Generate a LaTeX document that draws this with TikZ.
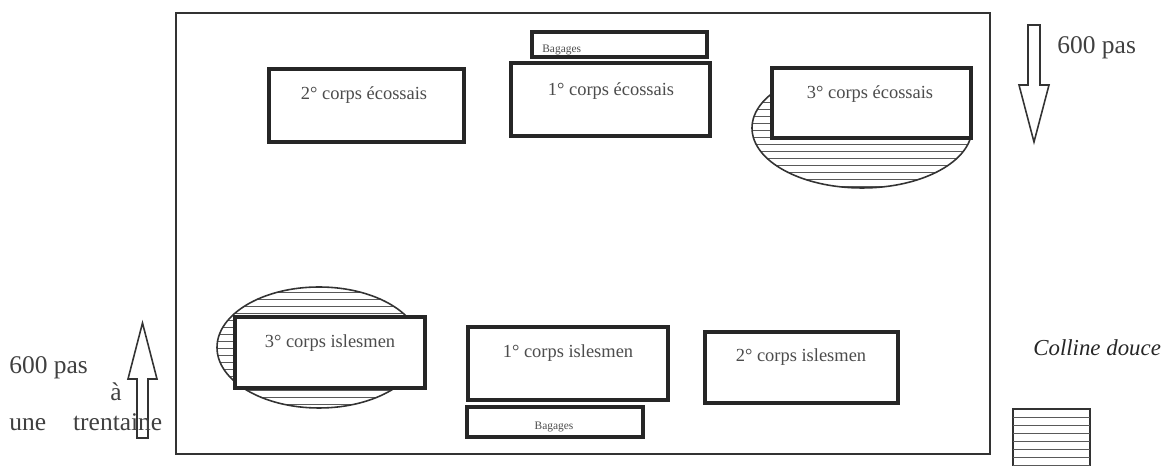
\documentclass[tikz,border=0pt]{standalone}
\usepackage{fontspec}
\setmainfont{Liberation Serif}
\begin{document}
\begin{tikzpicture}[x=0.2mm, y=-0.2mm]
    \tikzstyle{corps}=[draw=black!85, line width=2pt, fill=white, inner sep=0pt]
    \tikzstyle{bagage}=[draw=black!85, line width=1.8pt, fill=white, inner sep=0pt]
    \tikzstyle{lbl}=[black!70, inner sep=0pt, font=\fontsize{10.5}{12}\selectfont]
    \tikzstyle{note}=[black!75, inner sep=0pt, font=\fontsize{14.5}{16}\selectfont]
    \tikzstyle{bagtxt}=[black!70, inner sep=0pt, font=\fontsize{6.5}{7}\selectfont]
    \tikzstyle{hatch}=[black!65, line width=0.5pt]
    \tikzstyle{fleche}=[draw=black!80, line width=0.9pt, fill=white]
    \useasboundingbox (0, 0) rectangle (1170, 466);
    \draw [black!80, line width=0.8pt] (176, 13) rectangle (990, 454);
    % zones hachurees
    \begin{scope}
        \clip (862, 128) ellipse [x radius=110, y radius=60];
        \foreach \y in {74, 81, ..., 190} \draw [hatch] (740, \y) -- (985, \y);
    \end{scope}
    \draw [black!80, line width=0.9pt] (862, 128) ellipse [x radius=110, y radius=60];
    \begin{scope}
        \clip (319, 347.5) ellipse [x radius=102, y radius=60.5];
        \foreach \y in {292, 299, ..., 410} \draw [hatch] (210, \y) -- (430, \y);
    \end{scope}
    \draw [black!80, line width=0.9pt] (319, 347.5) ellipse [x radius=102, y radius=60.5];
    \draw [black!80, line width=0.9pt] (1013, 466) -- (1013, 409) -- (1090, 409) -- (1090, 466);
    \foreach \y in {417, 425, ..., 466} \draw [hatch] (1013, \y) -- (1090, \y);
    % corps ecossais
    \node [bagage, minimum width=35mm, minimum height=5mm] (bagE) at (619.5, 44.5) {};
    \node [bagtxt, anchor=west] (bagEtxt) at (542, 50) {Bagages};
    \node [corps, minimum width=39.8mm, minimum height=14.6mm] (c1E) at (610.5, 99.5) {};
    \node [lbl] (c1Etxt) at (611, 91) {1° corps écossais};
    \node [corps, minimum width=39mm, minimum height=14.6mm] (c2E) at (366.5, 105.5) {};
    \node [lbl] (c2Etxt) at (364, 95) {2° corps écossais};
    \node [corps, minimum width=39.8mm, minimum height=14mm] (c3E) at (871.5, 103) {};
    \node [lbl] (c3Etxt) at (870, 94) {3° corps écossais};
    % corps islesmen
    \node [corps, minimum width=38mm, minimum height=14.2mm] (c3I) at (330, 352.5) {};
    \node [lbl] (c3Itxt) at (330, 343) {3° corps islesmen};
    \node [corps, minimum width=40mm, minimum height=14.6mm] (c1I) at (568, 363.5) {};
    \node [lbl] (c1Itxt) at (568, 353) {1° corps islesmen};
    \node [bagage, minimum width=35.2mm, minimum height=6mm] (bagI) at (555, 422) {};
    \node [bagtxt] (bagItxt) at (554, 427) {Bagages};
    \node [corps, minimum width=38.6mm, minimum height=14.2mm] (c2I) at (801.5, 367.5) {};
    \node [lbl] (c2Itxt) at (801, 357) {2° corps islesmen};
    % fleches
    \draw [fleche] (1028, 25) -- (1040, 25) -- (1040, 85) -- (1049, 85) -- (1034, 142)
        -- (1019, 85) -- (1028, 85) -- cycle;
    \draw [fleche] (137, 438) -- (148, 438) -- (148, 379) -- (157, 379) -- (142.5, 323)
        -- (128, 379) -- (137, 379) -- cycle;
    \node [note, anchor=west] (pasE) at (1057, 48) {600 pas};
    \node [note, anchor=west] (pasI) at (9, 368) {600 pas};
    \node [note] (a) at (116, 392) {à};
    \node [note, anchor=west] (trente) at (9, 422) {une\hspace{5.4mm}trentaine};
    \node [note, anchor=west, black!85, font=\fontsize{13}{15}\selectfont\itshape] (colline) at (1033, 348) {Colline douce};
\end{tikzpicture}
\end{document}
